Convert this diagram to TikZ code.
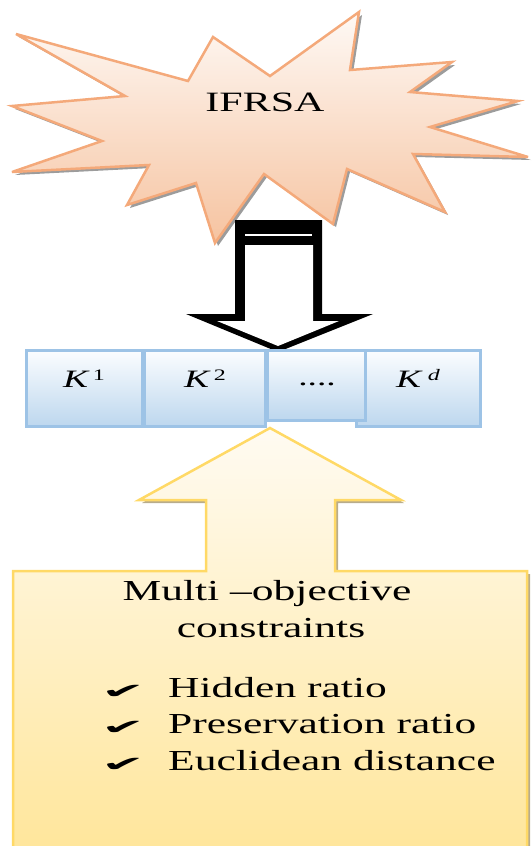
\documentclass[tikz,border=0pt]{standalone}
\usepackage{fontspec}
\setmainfont{Liberation Serif}[FakeStretch=1.5]
\newfontfamily\checkfont{DejaVu Sans}[FakeStretch=2.5]

\definecolor{burstline}{HTML}{F4A97A}
\definecolor{bursttop}{HTML}{FEF9F5}
\definecolor{burstbot}{HTML}{F6C3A0}
\definecolor{burstshadow}{HTML}{9C9C9C}
\definecolor{cellline}{HTML}{9DC3E6}
\definecolor{celltop}{HTML}{FBFDFF}
\definecolor{cellbot}{HTML}{BDD7EE}
\definecolor{goldline}{HTML}{FFD966}
\definecolor{goldtop}{HTML}{FFFBF2}
\definecolor{goldbot}{HTML}{FFE597}
\definecolor{goldshadow}{HTML}{B8AC8C}

% the irregular burst around the method name
\newcommand\burstoutline[1]{%
  \path[#1] (16,34) -- (188,81) -- (213,37) -- (270,76) -- (359,12) -- (350,70)
    -- (452,62) -- (410,92) -- (518,101) -- (430,127) -- (528,157) -- (413,154)
    -- (445,212) -- (347,169) -- (333,224) -- (264,174) -- (215,243) -- (196,183)
    -- (127,205) -- (149,165) -- (12,172) -- (102,141) -- (12,106) -- (125,96) -- cycle;}

% the upward block arrow that carries the constraint list
\newcommand\uparrowoutline[1]{%
  \path[#1] (270,428) -- (401,500) -- (335,500) -- (335,571) -- (527,571)
    -- (527,870) -- (13,870) -- (13,571) -- (206,571) -- (206,500) -- (139,500) -- cycle;}

\begin{document}
\begin{tikzpicture}[x=1pt,y=-1pt,
  txt/.style={inner sep=0pt, anchor=base},
  cell/.style={draw=cellline, line width=3pt, top color=celltop, bottom color=cellbot},
  big/.style={font=\fontsize{29}{31}\selectfont},
  klabel/.style={txt, font=\fontsize{25}{27}\selectfont},
  checkmark/.style={inner sep=0pt, anchor=base west, font=\checkfont\fontsize{21}{24}\selectfont}]
\useasboundingbox (0,0) rectangle (531,846);
\clip (0,0) rectangle (531,846);

% burst with its drop shadow
\burstoutline{fill=burstshadow, shift={(3,3)}}
\burstoutline{draw=burstline, line width=2.5pt, line join=miter, miter limit=6,
  top color=bursttop, bottom color=burstbot}
\node[txt, font=\fontsize{28}{30}\selectfont] (ifrsa) at (265,111) {IFRSA};

% downward hollow block arrow
\fill[black] (235,220) -- (322,220) -- (322,314) -- (373,314) -- (278,352)
  -- (186,314) -- (235,314) -- cycle;
\fill[white] (245,245) -- (313,245) -- (313,321) -- (339,321) -- (278,346)
  -- (217,321) -- (245,321) -- cycle;
\draw[white, line width=1.5pt] (245,235) -- (312,235);

% row of key cells
\draw[cell] (26.5,350.5) rectangle (142.5,426.5);
\draw[cell] (144.5,350.5) rectangle (265.5,426.5);
\draw[cell] (356,350.5) rectangle (480,426.5);
\draw[cell] (267.5,350.5) rectangle (365.5,420);

\node[klabel] (k1) at (84,387) {\textit{K}\hspace{3pt}\raisebox{7pt}{\fontsize{16}{16}\selectfont 1}};
\node[klabel] (k2) at (205,387) {\textit{K}\hspace{3pt}\raisebox{7pt}{\fontsize{16}{16}\selectfont 2}};
\node[klabel] (kdots) at (317,385) {....};
\node[klabel] (kd) at (418,387) {\textit{K}\hspace{5pt}\raisebox{7pt}{\fontsize{16}{16}\selectfont\textit{d}}};

% upward block arrow with its shadow
\uparrowoutline{fill=goldshadow, shift={(3,3)}}
\uparrowoutline{draw=goldline, line width=2.5pt, top color=goldtop, bottom color=goldbot}

\node[txt, big] (title1) at (267,600) {Multi –objective};
\node[txt, big] (title2) at (271,637) {constraints};

\node[checkmark] (c1) at (101,698) {✔};
\node[checkmark] (c2) at (101,734) {✔};
\node[checkmark] (c3) at (101,771) {✔};
\node[txt, big, anchor=base west] (item1) at (168,697) {Hidden ratio};
\node[txt, big, anchor=base west] (item2) at (168,733) {Preservation ratio};
\node[txt, big, anchor=base west] (item3) at (168,770) {Euclidean distance};
\end{tikzpicture}
\end{document}
